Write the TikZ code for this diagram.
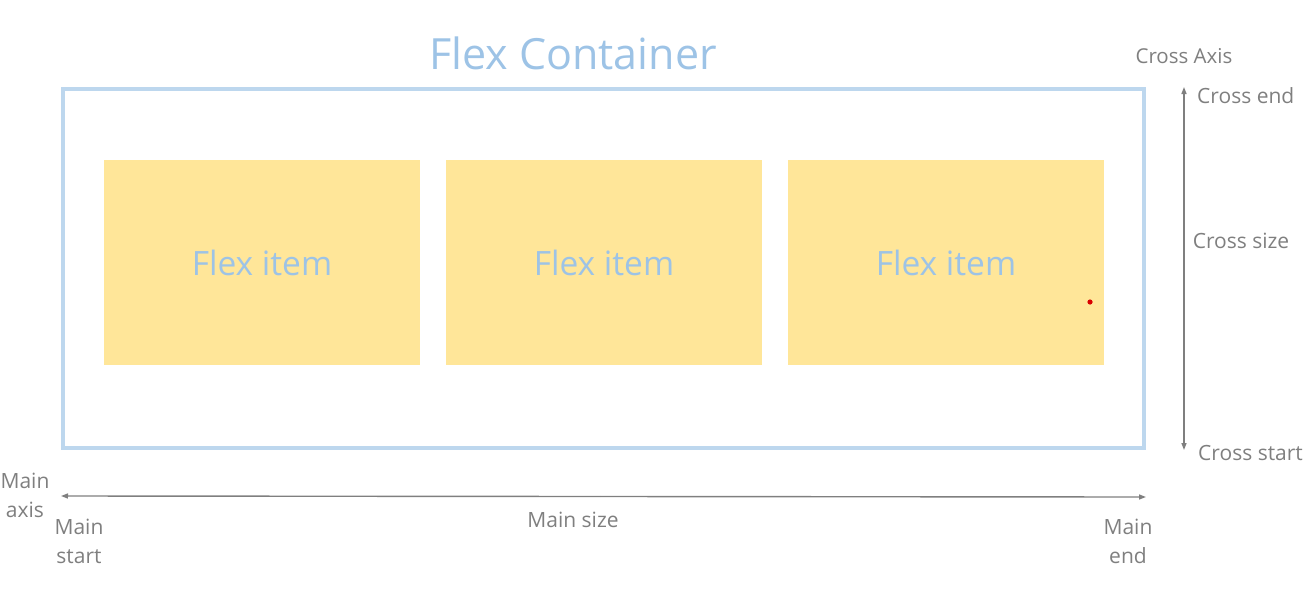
\documentclass[tikz,border=0pt]{standalone}
\usepackage{fontspec}
\setmainfont{Open Sans}
\usetikzlibrary{arrows.meta}
\definecolor{cblue}{HTML}{BDD7EE}
\definecolor{tblue}{HTML}{9DC3E6}
\definecolor{ifill}{HTML}{FFE699}
\definecolor{lgray}{HTML}{7F7F7F}
\tikzset{
  itembox/.style={fill=ifill, draw=none, minimum width=316pt, minimum height=205pt, inner sep=0pt,
    text=tblue, font=\fontsize{33.5}{38}\selectfont},
  lbl/.style={text=lgray, font=\fontsize{21}{29}\selectfont, inner sep=0pt, align=center},
  axis/.style={draw=lgray, line width=1.4pt, -{Triangle[length=7pt,width=5pt]}},
}
\begin{document}
\begin{tikzpicture}[x=1pt,y=-1pt]
\useasboundingbox (0,0) rectangle (1306,589);
\node[text=tblue, font=\fontsize{43}{48}\selectfont, inner sep=0pt] (title) at (573,53) {Flex Container};
\node[draw=cblue, line width=4pt, minimum width=1081pt, minimum height=359pt, inner sep=0pt] (cont) at (603.5,268.5) {};
\node[itembox] (i1) at (262,262.5) {Flex item};
\node[itembox] (i2) at (604,262.5) {Flex item};
\node[itembox] (i3) at (946,262.5) {Flex item};
\fill[red!85!black] (1090,302) circle (2.6pt);
% cross axis
\coordinate (ctop) at (1184,87);
\coordinate (cbot) at (1184,450);
\draw[axis] (1184,268) -- (ctop);
\draw[axis] (1184,268) -- (cbot);
\node[lbl, font=\fontsize{20.5}{29}\selectfont] (caxis) at (1184,56) {Cross Axis};
\node[lbl, anchor=west] (cend) at (1197,96) {Cross end};
\node[lbl] (csize) at (1241,241) {Cross size};
\node[lbl, anchor=west] (cstart) at (1198,453) {Cross start};
% main axis
\coordinate (mleft) at (61,496);
\coordinate (mright) at (1146,497);
\draw[axis] (600,496.5) -- (mleft);
\draw[axis] (600,496.5) -- (mright);
\node[lbl] (maxis) at (25,495.5) {Main\\axis};
\node[lbl] (mstart) at (79,541.5) {Main\\start};
\node[lbl] (msize) at (573,520) {Main size};
\node[lbl] (mend) at (1128,541.5) {Main\\end};
\end{tikzpicture}
\end{document}
